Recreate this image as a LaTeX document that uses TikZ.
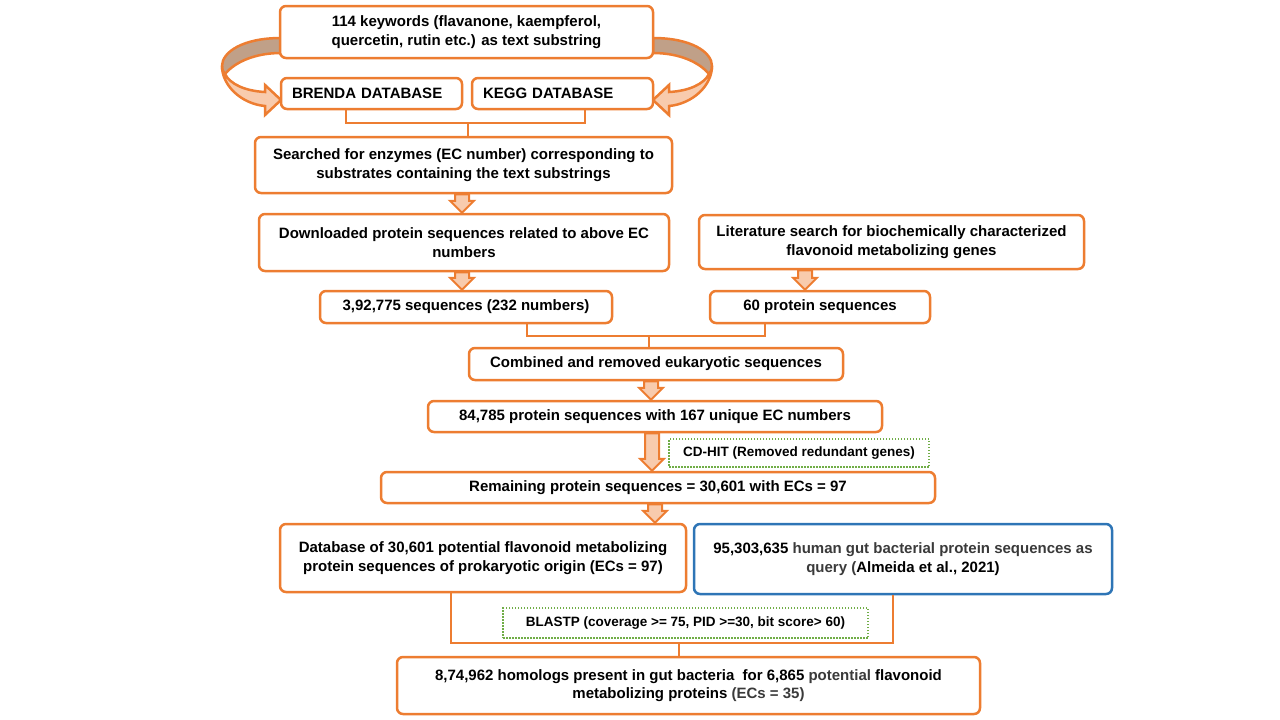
\documentclass[tikz,border=0pt]{standalone}
\usepackage{fontspec}
\setmainfont{Liberation Sans}
\usetikzlibrary{calc}
\definecolor{boxorange}{RGB}{237,125,49}
\definecolor{arrowfill}{RGB}{248,203,173}
\definecolor{ribbongray}{RGB}{192,160,136}
\definecolor{boxblue}{RGB}{46,117,182}
\definecolor{dotgreen}{RGB}{112,173,71}
\definecolor{softtext}{RGB}{58,58,58}
% fat arrow from #1 (tail) down to #2 (tip)
\newcommand{\fatarrow}[2]{%
  \draw[fatarrow] ($(#1)+(-7,0)$) -- ($(#2)+(-7,-12)$) -- ($(#2)+(-12,-12)$) -- (#2)
    -- ($(#2)+(12,-12)$) -- ($(#2)+(7,-12)$) -- ($(#1)+(7,0)$) -- cycle;}
% curled ribbon arrow, left-hand version
\newcommand{\ribbonarrow}{%
  \draw[ribbonline,fill=ribbongray] (281,38) .. controls (243,38) and (222,52) .. (222,66)
    .. controls (222,70) and (223,72) .. (225,74) .. controls (235,62) and (255,53) .. (281,53) -- cycle;
  \draw[ribbonline,fill=arrowfill] (222,66) .. controls (222,86) and (242,104) .. (265,106)
    -- (265,115) -- (281,100) -- (265,85) -- (265,92) .. controls (245,91) and (230,84) .. (225,74)
    .. controls (223,72) and (222,70) .. (222,66) -- cycle;}
\begin{document}
\begin{tikzpicture}[x=1pt,y=-1pt,
  box/.style={rectangle,rounded corners=6pt,draw=boxorange,line width=2.5pt,fill=white,
    inner sep=0pt,align=center,font=\fontsize{15}{18.5}\selectfont\bfseries},
  bluebox/.style={box,draw=boxblue},
  dotbox/.style={rectangle,draw=dotgreen,line width=1.5pt,dash pattern=on 1.5pt off 1.5pt,
    inner sep=0pt,font=\fontsize{13.5}{16}\selectfont\bfseries},
  link/.style={draw=boxorange,line width=2.5pt},
  fatarrow/.style={draw=boxorange,fill=arrowfill,line width=2pt,line join=miter},
  ribbonline/.style={draw=boxorange,line width=2.5pt,line join=miter}]
\useasboundingbox (0,0) rectangle (1280,720);
% Ribbon arrows round the keyword box
\ribbonarrow
\begin{scope}[xshift=934pt,xscale=-1]
\ribbonarrow
\end{scope}

% Place nodes
\node [box,minimum width=373pt,minimum height=52pt] (kw) at (466.5,32) {114 keywords (flavanone, kaempferol,\\ quercetin, rutin etc.) as text substring};
\node [box,minimum width=181pt,minimum height=31pt,text width=159pt,align=left] (brenda) at (371.5,93.5) {BRENDA DATABASE};
\node [box,minimum width=181pt,minimum height=31pt,text width=159pt,align=left] (kegg) at (562.5,93.5) {KEGG DATABASE};
\node [box,minimum width=417pt,minimum height=56pt] (search) at (463.5,165) {Searched for enzymes (EC number) corresponding to\\ substrates containing the text substrings};
\node [box,minimum width=410pt,minimum height=57pt] (down) at (464,242.5) {Downloaded protein sequences related to above EC\\ numbers};
\node [box,minimum width=385pt,minimum height=54pt] (lit) at (891.5,242) {Literature search for biochemically characterized\\ flavonoid metabolizing genes};
\node [box,minimum width=292pt,minimum height=32pt] (seq) at (466,307) {3,92,775 sequences (232 numbers)};
\node [box,minimum width=220pt,minimum height=32pt] (sixty) at (820,307) {60 protein sequences};
\node [box,minimum width=374pt,minimum height=32pt] (comb) at (656,364) {Combined and removed eukaryotic sequences};
\node [box,minimum width=454pt,minimum height=31pt] (ecs) at (655,416.5) {84,785 protein sequences with 167 unique EC numbers};
\node [dotbox,minimum width=260pt,minimum height=28pt] (cdhit) at (799,453) {CD-HIT (Removed redundant genes)};
\node [box,minimum width=554pt,minimum height=31pt] (remain) at (658,487.5) {Remaining protein sequences = 30,601 with ECs = 97};
\node [box,minimum width=406pt,minimum height=68pt] (db) at (483,558) {Database of 30,601 potential flavonoid metabolizing\\ protein sequences of prokaryotic origin (ECs = 97)};
\node [bluebox,minimum width=418pt,minimum height=70pt] (gut) at (903,559) {95,303,635 {\color{softtext}human gut bacterial protein sequences as}\\ {\color{softtext}query (}Almeida et al., 2021)};
\node [dotbox,minimum width=365pt,minimum height=30pt] (blastp) at (685.5,623) {BLASTP (coverage >= 75, PID >=30, bit score> 60)};
\node [box,minimum width=583pt,minimum height=57pt] (final) at (688.5,685.5) {8,74,962 homologs present in gut bacteria\ \ for 6,865 {\color{softtext}potential} flavonoid\\ metabolizing proteins {\color{softtext}(ECs = 35)}};

% Joining lines
\coordinate (j1) at (468,123);
\draw [link] ([xshift=-25.5pt]brenda.south) |- (j1) -| ([xshift=22.5pt]kegg.south);
\draw [link] (j1) -- (j1 |- search.north);
\coordinate (j2) at (649,336);
\draw [link] ([xshift=61pt]seq.south) |- (j2) -| ([xshift=-55pt]sixty.south);
\draw [link] (j2) -- (j2 |- comb.north);
\coordinate (j3) at (679,643);
\draw [link] ([xshift=-32pt]db.south) |- (j3) -| ([xshift=-10pt]gut.south);
\draw [link] (j3) -- (j3 |- final.north);

% Fat arrows
\fatarrow{462,0 |- search.south}{462,0 |- down.north}
\fatarrow{462,0 |- down.south}{462,0 |- seq.north}
\fatarrow{805,0 |- lit.south}{805,0 |- sixty.north}
\fatarrow{651,0 |- comb.south}{651,0 |- ecs.north}
\fatarrow{652,0 |- ecs.south}{652,0 |- remain.north}
\fatarrow{655,0 |- remain.south}{655,0 |- db.north}
\end{tikzpicture}
\end{document}
